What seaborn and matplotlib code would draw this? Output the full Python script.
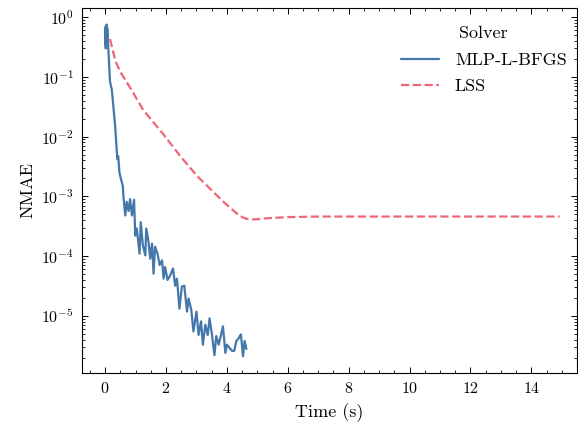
import numpy as np
import pandas as pd
import matplotlib
matplotlib.use("Agg")
import matplotlib.pyplot as plt
import seaborn as sns
from matplotlib.ticker import MultipleLocator, LogLocator, NullFormatter

# ---- data ----
time_mlp = [0.00, 0.01, 0.02, 0.03, 0.04, 0.05, 0.06, 0.07,
            0.16, 0.22, 0.33, 0.40, 0.43, 0.47, 0.52, 0.58, 0.60, 0.66,
            0.71, 0.77, 0.82, 0.88, 0.95, 0.99, 1.04, 1.13, 1.17, 1.24,
            1.32, 1.35, 1.42, 1.48, 1.54, 1.59, 1.64, 1.72, 1.79, 1.87,
            1.92, 1.97, 2.05, 2.14, 2.23, 2.30, 2.36, 2.44, 2.52, 2.60,
            2.69, 2.74, 2.83, 2.90, 3.00, 3.07, 3.15, 3.21, 3.29, 3.37,
            3.43, 3.51, 3.59, 3.65, 3.73, 3.78, 3.87, 3.95, 4.00, 4.09,
            4.17, 4.24, 4.31, 4.38, 4.46, 4.53, 4.58, 4.64]
nmae_mlp = [0.35, 0.68, 0.30, 0.72, 0.40, 0.75, 0.45, 0.65,
            8.3e-2, 6.1e-2, 1.48e-2, 4.2e-3, 4.7e-3, 2.5e-3, 1.95e-3, 1.5e-3, 1.02e-3, 4.8e-4,
            8.1e-4, 5.7e-4, 9.0e-4, 4.8e-4, 8.8e-4, 2.2e-4, 2.9e-4, 1.1e-4, 3.7e-4, 1.51e-4,
            1.03e-4, 2.9e-4, 1.82e-4, 9.1e-5, 1.62e-4, 5.1e-5, 1.44e-4, 1.10e-4, 7.1e-5, 8.5e-5,
            4.2e-5, 6.6e-5, 4.0e-5, 4.8e-5, 6.2e-5, 3.2e-5, 4.2e-5, 1.32e-5, 3.1e-5, 3.2e-5,
            1.18e-5, 1.95e-5, 1.26e-5, 5.5e-6, 1.18e-5, 4.8e-6, 8.1e-6, 3.3e-6, 7.1e-6, 4.8e-6,
            9.1e-6, 4.8e-6, 2.2e-6, 4.6e-6, 3.3e-6, 4.2e-6, 6.7e-6, 2.4e-6, 3.3e-6, 2.9e-6,
            2.6e-6, 2.6e-6, 3.8e-6, 4.2e-6, 4.9e-6, 2.1e-6, 3.8e-6, 2.8e-6]

time_lss = [0.16, 0.33, 0.49, 0.82, 1.25, 1.91, 2.47, 3.02, 3.72, 4.00,
            4.38, 4.52, 4.66, 4.80, 5.00, 5.30, 6.00, 7.00, 8.00, 10.00, 12.00, 14.93]
nmae_lss = [0.43, 0.19, 0.123, 0.066, 0.028, 0.011, 4.7e-3, 2.2e-3, 9.8e-4, 7.2e-4,
            4.9e-4, 4.45e-4, 4.2e-4, 4.1e-4, 4.15e-4, 4.3e-4, 4.5e-4, 4.6e-4, 4.6e-4, 4.6e-4,
            4.6e-4, 4.6e-4]

solvers = ["MLP-L-BFGS", "LSS"]
colors = {"MLP-L-BFGS": "#4477AA", "LSS": "#EE6677"}

df = pd.concat([
    pd.DataFrame({"Time (s)": time_mlp, "NMAE": nmae_mlp, "Solver": solvers[0]}),
    pd.DataFrame({"Time (s)": time_lss, "NMAE": nmae_lss, "Solver": solvers[1]}),
], ignore_index=True)

sns.set_style("ticks")
plt.rcParams.update({
    "font.family": "serif",
    "font.serif": ["cmr10", "DejaVu Serif"],
    "mathtext.fontset": "cm",
    "axes.formatter.use_mathtext": True,
    "axes.unicode_minus": True,
    "font.size": 13,
    "axes.linewidth": 0.8,
    "xtick.direction": "in",
    "ytick.direction": "in",
    "xtick.top": True,
    "ytick.right": True,
    "xtick.major.size": 4,
    "ytick.major.size": 4,
    "xtick.minor.size": 2,
    "ytick.minor.size": 2,
    "xtick.major.width": 0.7,
    "ytick.major.width": 0.7,
    "xtick.minor.width": 0.6,
    "ytick.minor.width": 0.6,
    "xtick.color": "black",
    "ytick.color": "black",
    "axes.edgecolor": "black",
    "text.color": "black",
    "axes.labelcolor": "black",
})

fig = plt.figure(figsize=(5.78, 4.30), dpi=100)
ax = fig.add_axes([82 / 578, 1 - 373 / 430, (577 - 82) / 578, (373 - 8) / 430])

sns.lineplot(data=df, x="Time (s)", y="NMAE", hue="Solver", style="Solver",
             hue_order=solvers, style_order=solvers, palette=colors,
             dashes={"MLP-L-BFGS": "", "LSS": (3.7, 1.6)},
             linewidth=1.6, ax=ax, estimator=None, sort=False)

ax.set_yscale("log")
ax.set_xlim(-0.76, 15.5)
ax.xaxis.set_major_locator(MultipleLocator(2))
ax.xaxis.set_minor_locator(MultipleLocator(0.5))
ax.yaxis.set_major_locator(LogLocator(base=10, numticks=20))
ax.yaxis.set_minor_locator(LogLocator(base=10, subs=np.arange(2, 10) * 0.1, numticks=20))
ax.yaxis.set_minor_formatter(NullFormatter())
ax.tick_params(which="both", top=True, right=True, direction="in")
ax.tick_params(axis="both", labelsize=11.5, pad=6)
ax.set_xlabel("Time (s)", fontsize=13, labelpad=5)
ax.set_ylabel("NMAE", fontsize=13, labelpad=4)

leg = ax.legend(title="Solver", loc="upper right", frameon=False, fontsize=13,
                title_fontsize=13, handlelength=2.1, labelspacing=0.6,
                handletextpad=0.9, bbox_to_anchor=(1.012, 0.995))

fig.savefig("out.png", dpi=100)
